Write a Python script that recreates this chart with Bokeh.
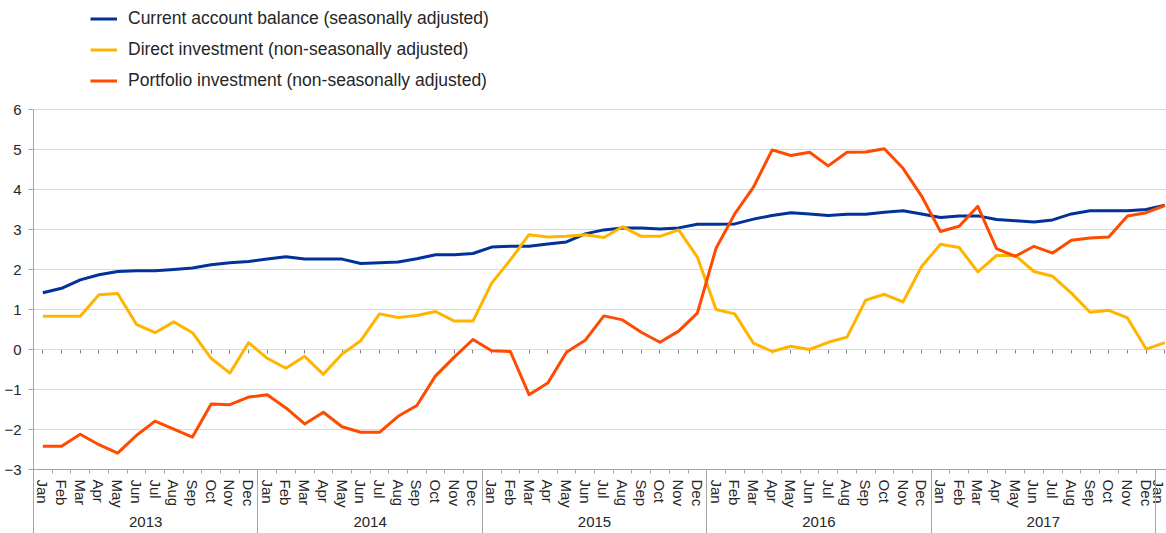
from bokeh.plotting import figure
from bokeh.models import (FixedTicker, LinearAxis, Range1d, Legend, LegendItem,
                          ColumnDataSource)
from bokeh.embed import file_html
from bokeh.resources import INLINE

months = ["Jan", "Feb", "Mar", "Apr", "May", "Jun", "Jul", "Aug", "Sep", "Oct", "Nov", "Dec"]
years = ["2013", "2014", "2015", "2016", "2017"]
month_labels = months * 5 + ["Jan"]

current_account = [1.42, 1.53, 1.74, 1.87, 1.95, 1.97, 1.97, 2.00, 2.04, 2.12, 2.17, 2.20,
                   2.26, 2.32, 2.26, 2.26, 2.26, 2.15, 2.17, 2.19, 2.27, 2.37, 2.37, 2.40,
                   2.56, 2.58, 2.58, 2.64, 2.69, 2.89, 2.99, 3.04, 3.04, 3.01, 3.04, 3.13,
                   3.13, 3.14, 3.26, 3.35, 3.42, 3.39, 3.35, 3.38, 3.38, 3.43, 3.47, 3.39,
                   3.30, 3.34, 3.34, 3.25, 3.22, 3.19, 3.24, 3.39, 3.47, 3.47, 3.47, 3.50, 3.61]
direct_investment = [0.83, 0.83, 0.83, 1.37, 1.40, 0.63, 0.42, 0.69, 0.42, -0.22, -0.59, 0.17,
                     -0.22, -0.47, -0.17, -0.62, -0.11, 0.22, 0.89, 0.80, 0.85, 0.95, 0.71, 0.71,
                     1.66, 2.24, 2.87, 2.81, 2.83, 2.87, 2.80, 3.07, 2.83, 2.83, 2.99, 2.31,
                     1.00, 0.89, 0.16, -0.05, 0.08, 0.00, 0.18, 0.31, 1.23, 1.38, 1.19, 2.08,
                     2.63, 2.55, 1.94, 2.35, 2.35, 1.95, 1.83, 1.41, 0.93, 0.98, 0.79, 0.01, 0.17]
portfolio_investment = [-2.42, -2.42, -2.12, -2.38, -2.59, -2.15, -1.79, -1.99, -2.19, -1.36, -1.38, -1.19,
                        -1.13, -1.46, -1.86, -1.57, -1.93, -2.07, -2.07, -1.67, -1.40, -0.66, -0.19, 0.25,
                        -0.03, -0.05, -1.13, -0.84, -0.07, 0.23, 0.84, 0.74, 0.43, 0.18, 0.46, 0.91,
                        2.53, 3.39, 4.06, 4.99, 4.85, 4.93, 4.59, 4.93, 4.94, 5.02, 4.53, 3.83,
                        2.95, 3.08, 3.58, 2.52, 2.33, 2.58, 2.41, 2.73, 2.79, 2.81, 3.34, 3.42, 3.60]
series_names = ["Current account balance (seasonally adjusted)",
                "Direct investment (non-seasonally adjusted)",
                "Portfolio investment (non-seasonally adjusted)"]
colors = ["#003299", "#FFB400", "#FF4B00"]
y_ticks = [-3, -2, -1, 0, 1, 2, 3, 4, 5, 6]

n = len(month_labels)
x = list(range(n))
FONT = "Liberation Sans"
TXT = "#262626"
AXC = "#a6a6a6"
Y_BOTTOM = -4.6   # room below the -3 axis for month and year labels
Y_TOP = 8.725     # room above 6 for the legend

p = figure(width=1166, height=533, output_backend="svg", toolbar_location=None,
           x_range=Range1d(-0.5, 60.088), y_range=Range1d(Y_BOTTOM, Y_TOP),
           x_axis_location=None,
           min_border_left=33, min_border_right=0, min_border_top=0, min_border_bottom=0)
p.outline_line_color = None
p.background_fill_color = "white"
p.border_fill_color = "white"

# y axis
ya = p.yaxis[0]
ya.ticker = FixedTicker(ticks=y_ticks)
ya.bounds = (Y_BOTTOM, 6)
ya.axis_line_color = AXC
ya.major_tick_line_color = AXC
ya.major_tick_out = 5
ya.major_tick_in = 0
ya.minor_tick_line_color = None
ya.major_label_standoff = 7
ya.major_label_text_font = FONT
ya.major_label_text_font_size = "15px"
ya.major_label_text_color = TXT

p.xgrid.visible = False
p.ygrid.ticker = FixedTicker(ticks=y_ticks)
p.ygrid.grid_line_color = "#d9d9d9"

# month axis at y = -3
ma = LinearAxis(fixed_location=-3,
                ticker=FixedTicker(ticks=x, minor_ticks=[i - 0.5 for i in range(n + 1)]),
                major_label_overrides={i: m for i, m in enumerate(month_labels)},
                major_label_orientation="vertical",
                axis_line_color=AXC, major_tick_out=0, major_tick_in=0,
                major_tick_line_color=None,
                minor_tick_out=4, minor_tick_in=0, minor_tick_line_color=AXC,
                major_label_standoff=6, major_label_text_font=FONT,
                major_label_text_font_size="15px", major_label_text_color=TXT)
p.add_layout(ma, "below")

# year separators
year_bounds = [-0.5 + 12 * k for k in range(len(years) + 1)]
sa = LinearAxis(fixed_location=-3,
                ticker=FixedTicker(ticks=year_bounds),
                axis_line_color=None, major_tick_line_color=AXC,
                major_tick_out=70, major_tick_in=0, minor_tick_line_color=None,
                major_label_overrides={b: "" for b in year_bounds},
                major_label_text_font_size="0px")
p.add_layout(sa, "below")

# year labels
year_centers = [5.5 + 12 * k for k in range(len(years))]
yla = LinearAxis(fixed_location=-3,
                 ticker=FixedTicker(ticks=year_centers),
                 axis_line_color=None, major_tick_line_color=None,
                 major_tick_out=0, major_tick_in=0, minor_tick_line_color=None,
                 major_label_overrides={c: y for c, y in zip(year_centers, years)},
                 major_label_standoff=47, major_label_text_font=FONT,
                 major_label_text_font_size="15px", major_label_text_color=TXT)
p.add_layout(yla, "below")

# zero line with ticks at each month
za = LinearAxis(fixed_location=0,
                ticker=FixedTicker(ticks=x),
                axis_line_color="#808080", major_tick_line_color="#808080",
                major_tick_out=4, major_tick_in=0, minor_tick_line_color=None,
                major_label_overrides={i: "" for i in x},
                major_label_text_font_size="0px", level="underlay")
p.add_layout(za, "below")

items = []
for name, vals, col in zip(series_names,
                           [current_account, direct_investment, portfolio_investment], colors):
    src = ColumnDataSource(dict(x=x, y=vals))
    r = p.line("x", "y", source=src, line_color=col, line_width=3, line_join="round")
    items.append(LegendItem(label=name, renderers=[r]))

legend = Legend(items=items, location=(57, 442), orientation="vertical",
                padding=0, margin=0, spacing=10, glyph_width=27, glyph_height=19,
                label_height=19, label_standoff=11,
                label_text_font=FONT, label_text_font_size="17.5px", label_text_color=TXT,
                background_fill_alpha=0, border_line_color=None)
p.add_layout(legend, "center")

open("out.html", "w").write(file_html(p, INLINE))
